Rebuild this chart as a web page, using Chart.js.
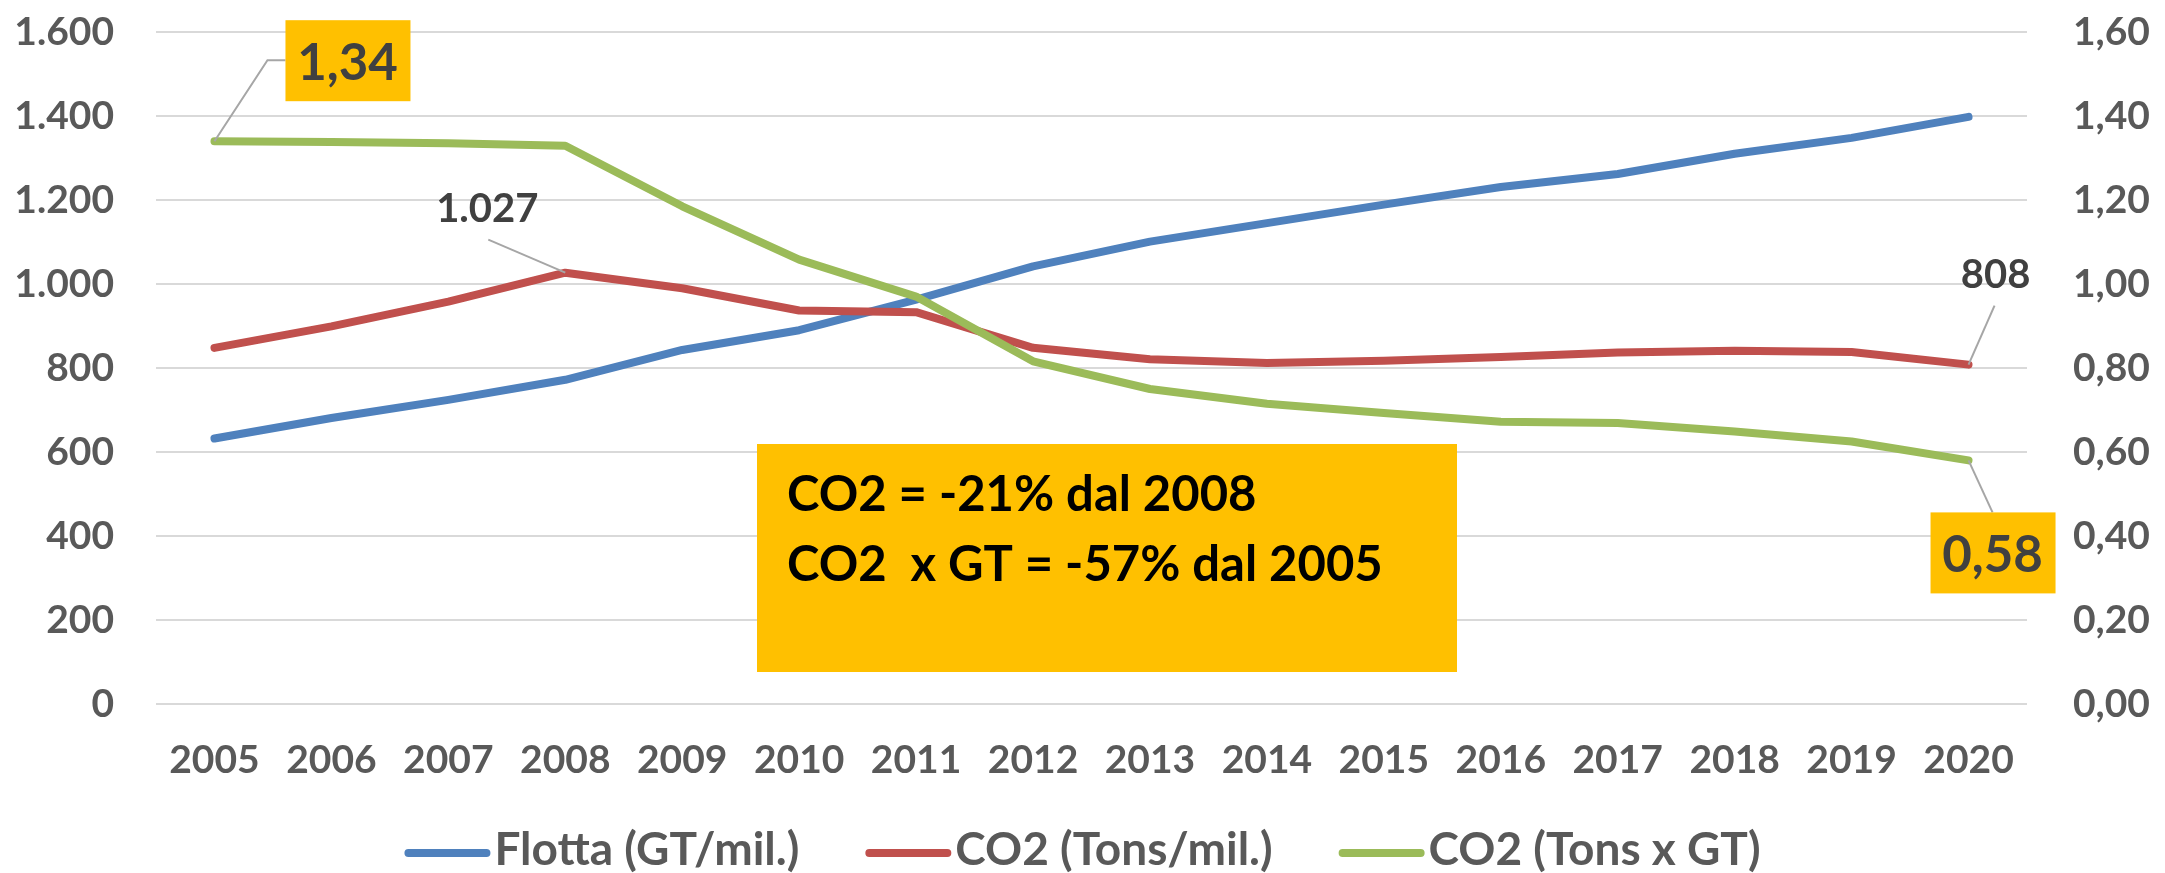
<!DOCTYPE html>
<html>
<head>
<meta charset="utf-8">
<script src="https://cdn.jsdelivr.net/npm/chart.js@4.4.1/dist/chart.umd.min.js"></script>
<style>
  html, body { margin: 0; padding: 0; background: #fff; }
  canvas { display: block; }
</style>
</head>
<body>
<canvas id="chart" width="2165" height="873"></canvas>
<script>
const years = ['2005', '2006', '2007', '2008', '2009', '2010', '2011', '2012',
               '2013', '2014', '2015', '2016', '2017', '2018', '2019', '2020'];

// GT/mil. (left axis)
const flotta = [632, 681, 724, 772, 843, 890, 963, 1042, 1101, 1145, 1189, 1231, 1262, 1310, 1348, 1398];
// Tons/mil. (left axis)
const co2 = [848, 899, 958, 1027, 990, 937, 933, 848, 821, 812, 817, 826, 837, 841, 838, 808];
// Tons x GT (right axis)
const co2PerGt = [1.34, 1.338, 1.335, 1.329, 1.185, 1.058, 0.970, 0.816, 0.750, 0.715, 0.693, 0.672, 0.669, 0.649, 0.625, 0.58];

const leftTicks = { min: 0, max: 1600, step: 200 };
const rightTicks = { min: 0, max: 1.6, step: 0.2 };

const seriesNames = ['Flotta (GT/mil.)', 'CO2 (Tons/mil.)', 'CO2 (Tons x GT)'];
const seriesColors = ['#4F81BD', '#C0504D', '#9BBB59'];
const noteLines = ['CO2 = -21% dal 2008', 'CO2  x GT = -57% dal 2005'];

const FONT = 'Lato, "Open Sans", sans-serif';
const GREY = '#595959';
const DARK = '#404040';
const YELLOW = '#FFC000';
const LEADER = '#A6A6A6';

function fmtThousands(v) {
    return String(Math.round(v)).replace(/\B(?=(\d{3})+(?!\d))/g, '.');
}
function fmtComma(v) {
    return v.toFixed(2).replace('.', ',');
}

// labels, leader lines and the yellow note
const annotations = {
    id: 'annotations',
    afterDatasetsDraw(chart) {
        const ctx = chart.ctx;
        const red = chart.getDatasetMeta(1).data;
        const green = chart.getDatasetMeta(2).data;
        ctx.save();
        ctx.strokeStyle = LEADER;
        ctx.lineWidth = 2;
        ctx.textAlign = 'center';
        ctx.textBaseline = 'middle';

        // 1,34
        let p = green[0];
        ctx.beginPath();
        ctx.moveTo(p.x, p.y);
        ctx.lineTo(p.x + 53, p.y - 81);
        ctx.lineTo(p.x + 71, p.y - 81);
        ctx.stroke();
        ctx.fillStyle = YELLOW;
        ctx.fillRect(p.x + 71, p.y - 121, 125, 81);
        ctx.fillStyle = DARK;
        ctx.font = 'bold 51px ' + FONT;
        ctx.fillText(fmtComma(co2PerGt[0]), p.x + 133, p.y - 78);

        // 0,58
        p = green[green.length - 1];
        ctx.beginPath();
        ctx.moveTo(p.x, p.y);
        ctx.lineTo(p.x + 24, p.y + 52);
        ctx.stroke();
        ctx.fillStyle = YELLOW;
        ctx.fillRect(p.x - 38, p.y + 52, 125, 81);
        ctx.fillStyle = DARK;
        ctx.fillText(fmtComma(co2PerGt[co2PerGt.length - 1]), p.x + 24, p.y + 95);

        // 1.027
        ctx.font = 'bold 40px ' + FONT;
        p = red[3];
        ctx.beginPath();
        ctx.moveTo(p.x - 77, p.y - 33);
        ctx.lineTo(p.x, p.y);
        ctx.stroke();
        ctx.fillText(fmtThousands(co2[3]), p.x - 78, p.y - 64);

        // 808
        p = red[red.length - 1];
        ctx.beginPath();
        ctx.moveTo(p.x + 26, p.y - 59);
        ctx.lineTo(p.x, p.y);
        ctx.stroke();
        ctx.fillText(fmtThousands(co2[co2.length - 1]), p.x + 27, p.y - 90);

        // note box
        ctx.fillStyle = YELLOW;
        ctx.fillRect(757, 444, 700, 228);
        ctx.fillStyle = '#000';
        ctx.textAlign = 'left';
        ctx.font = 'bold 49px ' + FONT;
        ctx.fillText(noteLines[0], 787, 495);
        ctx.fillText(noteLines[1], 787, 565, 602);
        ctx.restore();
    }
};

// legend drawn by hand so the spacing can follow the original
const legendRow = {
    id: 'legendRow',
    afterDraw(chart) {
        const ctx = chart.ctx;
        const sets = chart.data.datasets;
        const lineLen = 86, gap = 4, spacing = 66, y = 850;
        ctx.save();
        ctx.font = 'bold 46px ' + FONT;
        ctx.textBaseline = 'middle';
        ctx.textAlign = 'left';
        const widths = sets.map(d => ctx.measureText(d.label).width);
        const total = widths.reduce((a, w) => a + lineLen + gap + w, 0) + spacing * (sets.length - 1);
        let x = (chart.width - total) / 2;
        sets.forEach((d, i) => {
            ctx.strokeStyle = d.borderColor;
            ctx.lineWidth = 8;
            ctx.lineCap = 'round';
            ctx.beginPath();
            ctx.moveTo(x + 4, y + 3);
            ctx.lineTo(x + lineLen - 4, y + 3);
            ctx.stroke();
            ctx.fillStyle = GREY;
            ctx.fillText(d.label, x + lineLen + gap, y);
            x += lineLen + gap + widths[i] + spacing;
        });
        ctx.restore();
    }
};

const tickFont = { family: FONT, size: 39, weight: 'bold' };

function fixY(width) {
    return s => {
        s.width = width;
        s.paddingTop = 0;
        s.paddingBottom = 0;
    };
}

new Chart(document.getElementById('chart'), {
    type: 'line',
    data: {
        labels: years,
        datasets: [
            { label: seriesNames[0], data: flotta, yAxisID: 'y', borderColor: seriesColors[0], backgroundColor: seriesColors[0], borderWidth: 8, order: 3 },
            { label: seriesNames[1], data: co2, yAxisID: 'y', borderColor: seriesColors[1], backgroundColor: seriesColors[1], borderWidth: 8, order: 2 },
            { label: seriesNames[2], data: co2PerGt, yAxisID: 'y1', borderColor: seriesColors[2], backgroundColor: seriesColors[2], borderWidth: 8, order: 1 }
        ]
    },
    options: {
        responsive: false,
        animation: false,
        devicePixelRatio: 1,
        layout: { padding: { top: 32, bottom: 53, left: 0, right: 0 } },
        elements: {
            line: { tension: 0, borderCapStyle: 'round', borderJoinStyle: 'round' },
            point: { radius: 0, hoverRadius: 0 }
        },
        scales: {
            x: {
                offset: true,
                grid: { display: false, drawTicks: false },
                border: { display: false },
                ticks: { color: GREY, font: tickFont, padding: 33, maxRotation: 0, autoSkip: false },
                afterFit: s => { s.height = 116; }
            },
            y: {
                position: 'left',
                min: leftTicks.min, max: leftTicks.max,
                grid: { color: '#D9D9D9', lineWidth: 2, drawTicks: false },
                border: { display: false },
                ticks: { stepSize: leftTicks.step, color: GREY, font: tickFont, padding: 42, callback: v => fmtThousands(v) },
                afterFit: fixY(156)
            },
            y1: {
                position: 'right',
                min: rightTicks.min, max: rightTicks.max,
                grid: { display: false, drawTicks: false },
                border: { display: false },
                ticks: { stepSize: rightTicks.step, color: GREY, font: tickFont, padding: 46, callback: v => fmtComma(v) },
                afterFit: fixY(138)
            }
        },
        plugins: {
            tooltip: { enabled: false },
            legend: { display: false }
        }
    },
    plugins: [annotations, legendRow]
});
</script>
</body>
</html>
